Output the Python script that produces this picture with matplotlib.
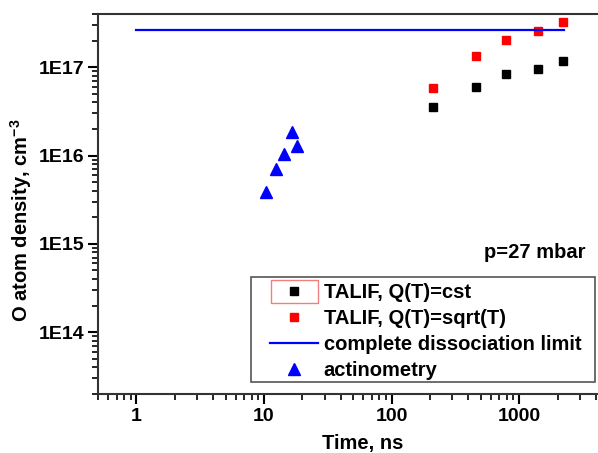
import matplotlib
matplotlib.use("Agg")
import matplotlib.pyplot as plt
import numpy as np
from matplotlib.ticker import FixedLocator, LogLocator, NullFormatter, FuncFormatter
from matplotlib.patches import Rectangle

plt.rcParams['font.family'] = ['Liberation Sans', 'DejaVu Sans']
plt.rcParams['font.weight'] = 'bold'
plt.rcParams['mathtext.fontset'] = 'custom'
plt.rcParams['mathtext.rm'] = 'Liberation Sans:bold'
plt.rcParams['mathtext.bf'] = 'Liberation Sans:bold'

# TALIF data
t_talif = [212, 462, 794, 1406, 2207]
n_cst = [3.5e16, 5.9e16, 8.3e16, 9.5e16, 1.16e17]
n_sqrt = [5.8e16, 1.33e17, 2.04e17, 2.57e17, 3.26e17]

# actinometry
t_act = [10.4, 12.4, 14.4, 16.5, 18.1]
n_act = [3.9e15, 7.1e15, 1.03e16, 1.85e16, 1.27e16]

# complete dissociation limit
t_lim = [1, 2240]
n_lim = [2.67e17, 2.67e17]

W, H = 598, 453
fig = plt.figure(figsize=(W/100, H/100), dpi=100)
# right spine lies beyond the picture (cropped original)
ax = fig.add_axes([98/W, 1-394/H, (627-98)/W, (394-14)/H])

ax.plot(t_talif, n_cst, 's', color='black', ms=6, label='TALIF, Q(T)=cst')
ax.plot(t_talif, n_sqrt, 's', color='red', ms=6, label='TALIF, Q(T)=sqrt(T)')
ax.plot(t_lim, n_lim, '-', color='blue', lw=1.6, label='complete dissociation limit')
ax.plot(t_act, n_act, '^', color='blue', ms=8, label='actinometry')

ax.set_xscale('log')
ax.set_yscale('log')
ax.set_xlim(0.5, 7000)
ax.set_ylim(2e13, 4e17)

ax.xaxis.set_major_locator(FixedLocator([1, 10, 100, 1000]))
ax.xaxis.set_major_formatter(FuncFormatter(lambda v, p: '%d' % v))
ax.yaxis.set_major_locator(FixedLocator([1e14, 1e15, 1e16, 1e17]))
ax.yaxis.set_major_formatter(FuncFormatter(lambda v, p: '1E%d' % round(np.log10(v))))
ax.xaxis.set_minor_locator(LogLocator(base=10, subs=np.arange(2, 10)))
ax.yaxis.set_minor_locator(LogLocator(base=10, subs=np.arange(2, 10)))
ax.xaxis.set_minor_formatter(NullFormatter())
ax.yaxis.set_minor_formatter(NullFormatter())

ax.tick_params(which='major', direction='out', length=7, width=1.5, labelsize=14, pad=3)
ax.tick_params(which='minor', direction='out', length=4, width=1.2)
for s in ax.spines.values():
    s.set_linewidth(1.5)
    s.set_color('#333333')

ax.set_xlabel('Time, ns', fontsize=14.5, fontweight='bold')
ax.set_ylabel(r'O atom density, cm$^{-3}$', fontsize=14.5, fontweight='bold')
ax.xaxis.set_label_coords(362.7/W, 1-443/H, transform=fig.transFigure)
ax.xaxis.label.set_va('center')
ax.yaxis.set_label_coords(21/W, 1-220/H, transform=fig.transFigure)
ax.yaxis.label.set_va('center')

fig.text(586/W, 1-252.7/H, 'p=27 mbar', ha='right', va='center',
         fontsize=14.5, fontweight='bold')

leg = ax.legend(loc='upper left', bbox_to_anchor=(270/W, 1-283.5/H), bbox_transform=fig.transFigure,
                fontsize=14.5, frameon=False, handlelength=2.36, handletextpad=0.3,
                borderaxespad=0, borderpad=0, labelspacing=0.34)

# legend frame and the red selection box around the first entry
fig.patches.append(Rectangle((251/W, 1-381.7/H), (595-251)/W, (381.7-276.7)/H,
                             transform=fig.transFigure, fill=False, edgecolor='#555555', lw=1.2))
fig.patches.append(Rectangle((270.7/W, 1-303.3/H), 47.6/W, 23.3/H,
                             transform=fig.transFigure, fill=False, edgecolor='#f08080', lw=1))

fig.savefig('out.png', dpi=100)
